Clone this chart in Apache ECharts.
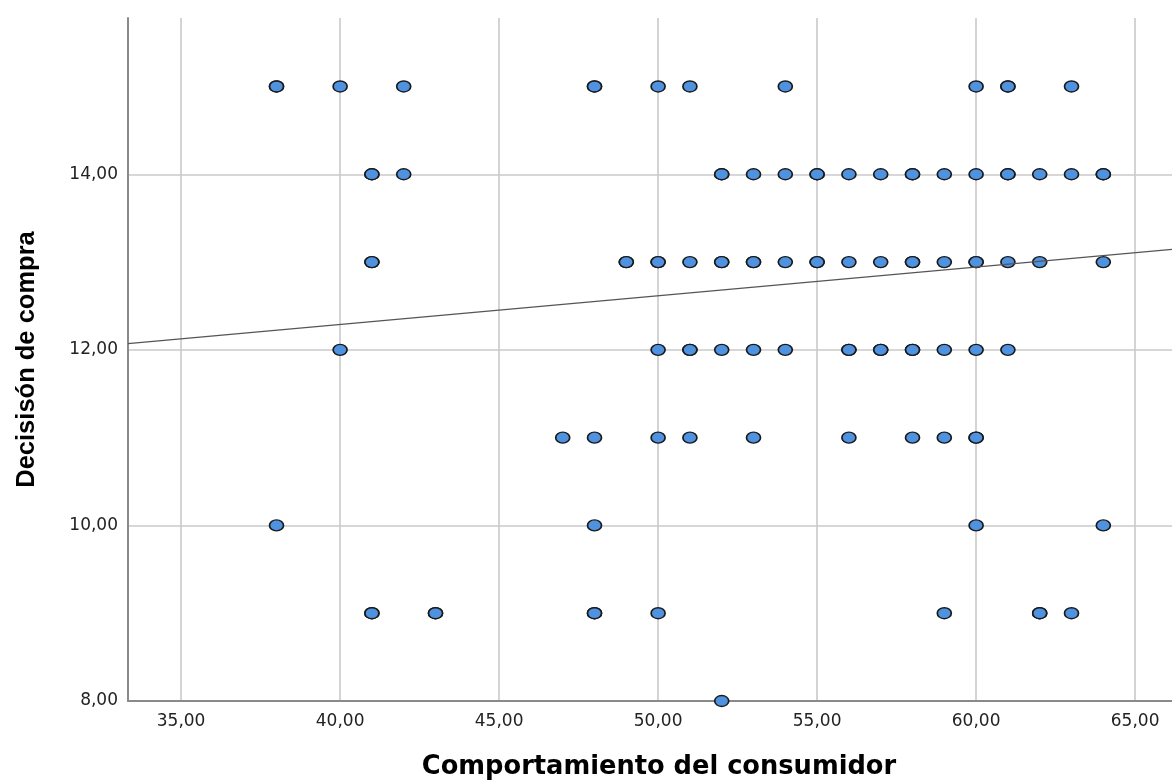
<!DOCTYPE html>
<html>
<head>
<meta charset="utf-8">
<title>Comportamiento del consumidor vs Decisión de compra</title>
<script src="https://cdn.jsdelivr.net/npm/echarts@6/dist/echarts.min.js"></script>
<style>
  html, body { margin: 0; padding: 0; background: #ffffff; }
  #chart { width: 1172px; height: 780px; }
</style>
</head>
<body>
<div id="chart"></div>
<script>
// Observations grouped by "Decisión de compra" level; repeated x values are repeated cases
const row15 = [38, 38, 40, 42, 48, 48, 50, 51, 54, 60, 61, 61, 63];
const row14 = [41, 41, 42, 52, 52, 53, 54, 55, 55, 56, 57, 58, 58, 59, 60, 61, 61, 62, 63, 64, 64];
const row13 = [41, 41, 49, 49, 50, 50, 51, 52, 52, 53, 53, 54, 55, 55, 56, 57, 58, 58, 59, 60, 60, 61, 62, 64];
const row12 = [40, 50, 51, 51, 52, 53, 54, 56, 56, 57, 57, 58, 58, 59, 60, 61];
const row11 = [47, 48, 50, 51, 53, 56, 58, 59, 60, 60];
const row10 = [38, 48, 60, 64];
const row9  = [41, 41, 43, 43, 48, 48, 50, 59, 62, 62, 63];
const row8  = [52];

const rowLevels = [15, 14, 13, 12, 11, 10, 9, 8];
const rows = [row15, row14, row13, row12, row11, row10, row9, row8];

// Tick values
const xTicks = [35, 40, 45, 50, 55, 60, 65];
const yTicks = [8, 10, 12, 14];

// Fitted linear regression: y = intercept + slope * x
const fitIntercept = 10.98;
const fitSlope = 0.0327;

// Axis extents
const xMin = 33.33, xMax = 66.16;
const yMin = 8, yMax = 15.78;

const points = [];
rows.forEach(function (xs, i) {
  xs.forEach(function (x) { points.push([x, rowLevels[i]]); });
});

const fitLine = [
  [xMin, fitIntercept + fitSlope * xMin],
  [xMax, fitIntercept + fitSlope * xMax]
];

const fmt = function (v) { return v.toFixed(2).replace('.', ','); };

const chart = echarts.init(document.getElementById('chart'), null, { renderer: 'canvas' });
chart.setOption({
  animation: false,
  backgroundColor: '#ffffff',
  grid: { left: 128, right: 0, top: 18, bottom: 79, containLabel: false, outerBoundsMode: 'none' },
  xAxis: {
    type: 'value',
    min: xMin,
    max: xMax,
    name: 'Comportamiento del consumidor',
    nameLocation: 'middle',
    nameGap: 53,
    nameTextStyle: { fontFamily: 'DejaVu Sans', fontWeight: 'bold', fontSize: 25.7, color: '#000', padding: [0, 0, 0, 18] },
    axisLine: { show: true, onZero: false, lineStyle: { color: '#8a8a8a', width: 2 } },
    axisTick: { show: false, customValues: xTicks },
    axisLabel: { customValues: xTicks, formatter: fmt, margin: 12, fontFamily: 'DejaVu Sans', fontSize: 17, color: '#222' },
    splitLine: { show: true, lineStyle: { color: '#cacaca', width: 1.6 } }
  },
  yAxis: {
    type: 'value',
    min: yMin,
    max: yMax,
    name: 'Decisisón de compra',
    nameLocation: 'middle',
    nameRotate: 90,
    nameGap: 88,
    nameTextStyle: { fontFamily: 'Liberation Sans', fontWeight: 'bold', fontSize: 25.5, color: '#000' },
    axisLine: { show: true, onZero: false, lineStyle: { color: '#8a8a8a', width: 2 } },
    axisTick: { show: false, customValues: yTicks },
    axisLabel: { customValues: yTicks, formatter: fmt, margin: 10, fontFamily: 'DejaVu Sans', fontSize: 17, color: '#222' },
    splitLine: { show: true, lineStyle: { color: '#cacaca', width: 1.6 } }
  },
  series: [
    {
      type: 'scatter',
      data: points,
      symbol: 'circle',
      symbolSize: [14, 11],
      itemStyle: { color: '#4f92e0', borderColor: '#1a1a1a', borderWidth: 1.5, opacity: 1 },
      z: 2
    },
    {
      type: 'line',
      data: fitLine,
      symbol: 'none',
      silent: true,
      lineStyle: { color: '#555555', width: 1.3 },
      z: 3
    }
  ]
});
</script>
</body>
</html>
